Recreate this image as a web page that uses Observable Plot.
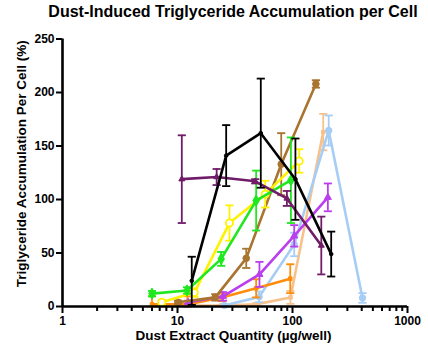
<!DOCTYPE html>
<html><head><meta charset="utf-8">
<script src="https://cdn.jsdelivr.net/npm/d3@7"></script>
<script src="https://cdn.jsdelivr.net/npm/@observablehq/plot@0.6"></script>
<style>
body{margin:0;background:#fff;font-family:"Liberation Sans",Arial,sans-serif;}
#title{height:26px;box-sizing:border-box;padding-top:4px;padding-left:38px;line-height:16px;text-align:center;font-weight:bold;font-size:16px;color:#000;white-space:nowrap;}
#chart svg{display:block;}
</style>
</head><body>
<div id="title">Dust-Induced Triglyceride Accumulation per Cell</div>
<div id="chart"></div>
<script>
// Tick values
const yTicks = [0, 50, 100, 150, 200, 250];
const xMajor = [1, 10, 100, 1000];
const xMinor = [2,3,4,5,6,7,8,9,20,30,40,50,60,70,80,90,200,300,400,500,600,700,800,900];
const xLabel = "Dust Extract Quantity (µg/well)";
const yLabel = "Triglyceride Accumulation Per Cell (%)";

// Series (x = µg/well, y = %, err = error bar half-length)
const peachX = [12, 24, 48, 96, 185];
const peachY = [1, 1, 2, 8.5, 163];
const peachErr = [0.5, 0.5, 1, 6, 17];

const lightBlueX = [25.6, 51.3, 103.5, 206.5, 406];
const lightBlueY = [1, 9, 58, 164.5, 8];
const lightBlueErr = [1, 5, 11, 14, 4.5];

const orangeX = [6, 12.2, 24.3, 48.3, 95.6];
const orangeY = [2, 2, 8.5, 17, 26];
const orangeErr = [7.5, 7.5, 3.5, 8.5, 13.5];

const magentaX = [12.4, 24.9, 51.6, 103.5, 203];
const magentaY = [4, 9.5, 30, 66, 102];
const magentaErr = [1.5, 4, 11.7, 10, 13];

const brownX = [10.1, 21.3, 39.6, 79.8, 159.7];
const brownY = [4, 8.5, 45, 133, 208];
const brownErr = [1.5, 3, 9, 29, 3.5];

const greenX = [6, 12.1, 24, 48.3, 96.9];
const greenY = [12, 15, 44.5, 99, 118];
const greenErr = [2.5, 3, 6.5, 28, 40];

const yellowX = [7.3, 14, 28.3, 57.9, 114.4];
const yellowY = [4, 13, 78, 105, 136];
const yellowErr = [2, 4, 16.5, 12.5, 11];

const purpleX = [10.9, 21.9, 47.4, 89.4, 178];
const purpleY = [119, 121, 117, 101, 57];
const purpleErr = [41, 7.5, 2, 7, 27];

const blackX = [13.3, 26.5, 53, 106, 217];
const blackY = [24, 141, 162, 119, 49];
const blackErr = [22.5, 28.5, 51, 38, 21];

const series = [
  {name: "peach", color: "#F7C18C", symbol: "square", r: 2, fill: true, x: peachX, y: peachY, err: peachErr},
  {name: "lightblue", color: "#A6CDF5", symbol: "circle", r: 3.2, fill: true, x: lightBlueX, y: lightBlueY, err: lightBlueErr},
  {name: "orange", color: "#FF8C0A", symbol: "square", r: 2, fill: true, x: orangeX, y: orangeY, err: orangeErr},
  {name: "magenta", color: "#BB3EEE", symbol: "triangle", r: 2.6, fill: true, x: magentaX, y: magentaY, err: magentaErr},
  {name: "brown", color: "#A8742F", symbol: "circle", r: 3.3, fill: true, x: brownX, y: brownY, err: brownErr},
  {name: "yellow", color: "#FFF200", symbol: "circle", r: 3.6, fill: false, x: yellowX, y: yellowY, err: yellowErr},
  {name: "green", color: "#1FE81F", symbol: "diamond", r: 3.4, fill: true, x: greenX, y: greenY, err: greenErr},
  {name: "purple", color: "#701C69", symbol: "triangle", r: 2.2, fill: true, x: purpleX, y: purpleY, err: purpleErr},
  {name: "black", color: "#000000", symbol: "circle", r: 1.8, fill: true, x: blackX, y: blackY, err: blackErr}
];

const capF = 1.085;
const marks = [];
for (const s of series) {
  const data = s.x.map((x, i) => ({x, y: s.y[i], lo: Math.max(0, s.y[i] - s.err[i]), hi: s.y[i] + s.err[i]}));
  marks.push(Plot.ruleX(data, {x: "x", y1: "lo", y2: "hi", stroke: s.color, strokeWidth: 1.8}));
  marks.push(Plot.link(data, {x1: d => d.x / capF, x2: d => d.x * capF, y1: "hi", y2: "hi", stroke: s.color, strokeWidth: 1.8}));
  marks.push(Plot.link(data, {x1: d => d.x / capF, x2: d => d.x * capF, y1: "lo", y2: "lo", stroke: s.color, strokeWidth: 1.8}));
  marks.push(Plot.line(data, {x: "x", y: "y", stroke: s.color, strokeWidth: 2.6}));
  marks.push(Plot.dot(data, {x: "x", y: "y", symbol: s.symbol, r: s.r,
    fill: s.fill ? s.color : "white", stroke: s.color, strokeWidth: s.fill ? 1 : 1.8}));
}

const chart = Plot.plot({
  width: 428,
  height: 325,
  marginLeft: 62,
  marginRight: 21,
  marginTop: 12.5,
  marginBottom: 45,
  x: {type: "log", domain: [1, 1000]},
  y: {domain: [0, 250]},
  style: {fontFamily: "'Liberation Sans', Arial, sans-serif", fontSize: "12px", fontWeight: "bold", color: "#000", background: "white", overflow: "visible"},
  marks: [
    Plot.axisY({ticks: yTicks, tickSize: 6, tickPadding: 2, strokeWidth: 2, label: null, fontWeight: "bold", fontSize: 12}),
    Plot.axisX({ticks: xMajor, tickFormat: d => String(d), tickSize: 7, tickPadding: 3, strokeWidth: 2, label: null, fontWeight: "bold", fontSize: 12}),
    Plot.axisX({ticks: xMinor, tickFormat: () => "", tickSize: 5, strokeWidth: 2, label: null}),
    ...marks,
    Plot.ruleY([0], {stroke: "#000", strokeWidth: 2.6}),
    Plot.ruleX([1], {stroke: "#000", strokeWidth: 2.6}),
    Plot.text([xLabel], {text: d => d, frameAnchor: "bottom", textAnchor: "middle", dy: 33, dx: -1.5, fontSize: 13.5, fontWeight: "bold", fill: "#000"}),
    Plot.text([yLabel], {text: d => d, frameAnchor: "left", textAnchor: "middle", rotate: -90, dx: -41, dy: -9, fontSize: 13.5, fontWeight: "bold", fill: "#000"})
  ]
});
document.getElementById("chart").appendChild(chart);
</script>
</body></html>
